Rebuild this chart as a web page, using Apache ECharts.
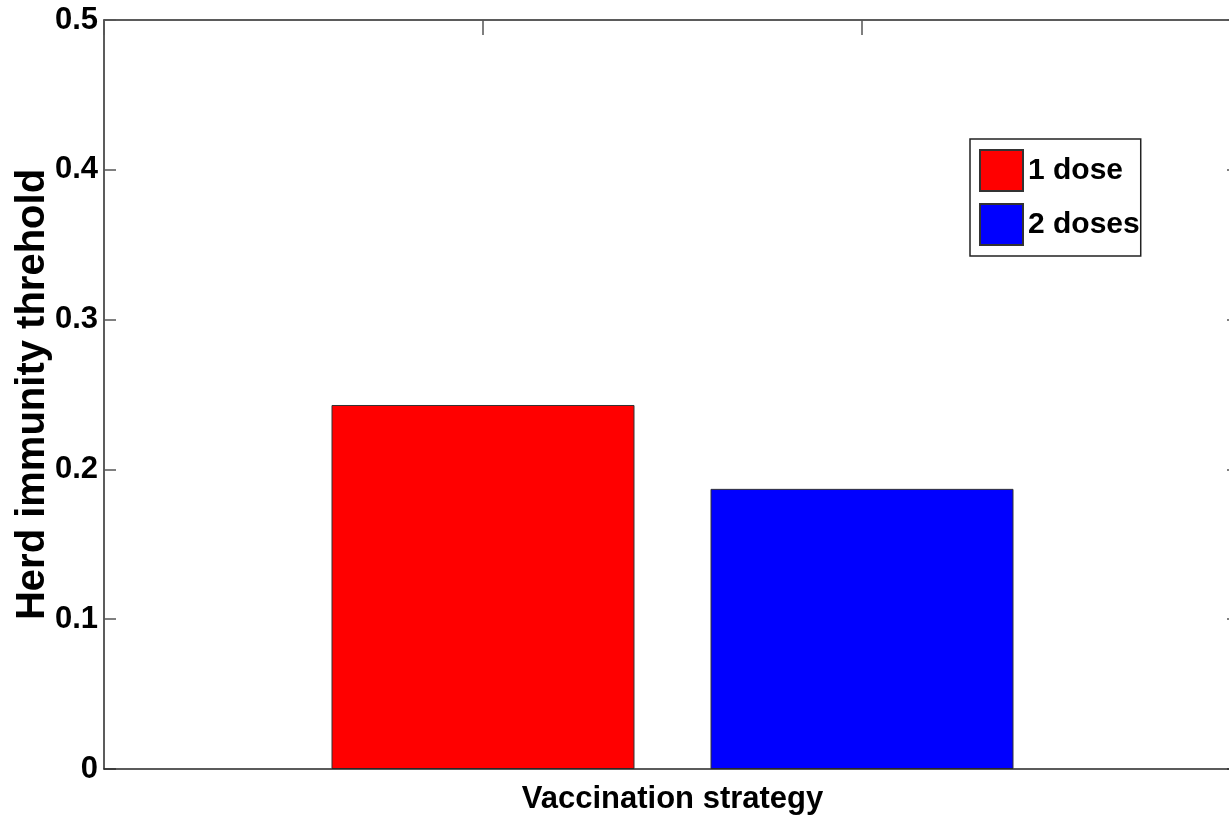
<!DOCTYPE html>
<html>
<head>
<meta charset="utf-8">
<title>Herd immunity threshold</title>
<script src="https://cdn.jsdelivr.net/npm/echarts@6/dist/echarts.min.js"></script>
<style>
  html, body { margin: 0; padding: 0; background: #fff; }
  #chart { width: 1229px; height: 822px; }
</style>
</head>
<body>
<div id="chart"></div>
<script>
  // data
  var strategies = [1, 2]              // bar positions on the x axis (0..3)
  var seriesNames = ['1 dose', '2 doses']
  var thresholds = [0.243, 0.187]
  var barColors = ['#ff0000', '#0000ff']
  var yMin = 0, yMax = 0.5, yStep = 0.1
  var xMin = 0, xMax = 3

  var FONT = "'Liberation Sans', Arial, sans-serif"
  var lineColor = '#262626'
  var tickColor = '#555'

  var chart = echarts.init(document.getElementById('chart'))

  var series = seriesNames.map(function (name, i) {
    return {
      name: name,
      type: 'bar',
      data: [[strategies[i], thresholds[i]]],
      barWidth: 303,
      barGap: '-100%',
      itemStyle: {
        color: barColors[i],
        borderColor: '#333',
        borderWidth: 1
      }
    }
  })

  chart.setOption({
    animation: false,
    backgroundColor: '#fff',
    // plot box runs past the right edge of the picture, like the original
    grid: {
      left: 104,
      top: 20,
      width: 1137,
      height: 749,
      containLabel: false,
      outerBoundsMode: 'none'
    },
    legend: {
      orient: 'vertical',
      left: 970,
      top: 139,
      padding: [10, 1, 10, 9],
      itemGap: 11,
      itemWidth: 43,
      itemHeight: 41,
      icon: 'rect',
      borderColor: '#222',
      borderWidth: 1.5,
      backgroundColor: '#fff',
      textStyle: {
        fontFamily: FONT,
        fontWeight: 'bold',
        fontSize: 30,
        color: '#000'
      },
      data: seriesNames
    },
    xAxis: [{
      type: 'value',
      position: 'bottom',
      min: xMin,
      max: xMax,
      interval: 1,
      name: 'Vaccination strategy',
      nameLocation: 'middle',
      nameGap: 15,
      nameTextStyle: {
        fontFamily: FONT,
        fontWeight: 'bold',
        fontSize: 31,
        color: '#000'
      },
      axisLine: { show: true, onZero: false, lineStyle: { color: lineColor, width: 1.5 } },
      axisTick: { show: false },
      axisLabel: { show: false },
      splitLine: { show: false },
      z: 10
    }, {
      type: 'value',
      position: 'top',
      min: xMin,
      max: xMax,
      interval: 1,
      axisLine: { show: true, onZero: false, lineStyle: { color: lineColor, width: 1.5 } },
      axisTick: { show: true, inside: true, length: 15, lineStyle: { color: tickColor, width: 1.5 } },
      axisLabel: { show: false },
      splitLine: { show: false }
    }],
    yAxis: [{
      type: 'value',
      position: 'left',
      min: yMin,
      max: yMax,
      interval: yStep,
      name: 'Herd immunity threhold',
      nameLocation: 'middle',
      nameRotate: 90,
      nameGap: 51,
      nameMoveOverlap: false,
      nameTextStyle: {
        fontFamily: FONT,
        fontWeight: 'bold',
        fontSize: 40,
        color: '#000'
      },
      axisLine: { show: true, onZero: false, lineStyle: { color: lineColor, width: 1.5 } },
      axisTick: { show: true, inside: true, length: 12, lineStyle: { color: tickColor, width: 1.5 } },
      axisLabel: {
        margin: 6,
        fontFamily: FONT,
        fontWeight: 'bold',
        fontSize: 31,
        color: '#000'
      },
      splitLine: { show: false }
    }, {
      type: 'value',
      position: 'right',
      min: yMin,
      max: yMax,
      interval: yStep,
      axisLine: { show: true, onZero: false, lineStyle: { color: lineColor, width: 1.5 } },
      axisTick: { show: true, inside: true, length: 14, lineStyle: { color: tickColor, width: 1.5 } },
      axisLabel: { show: false },
      splitLine: { show: false }
    }],
    series: series
  })
</script>
</body>
</html>
